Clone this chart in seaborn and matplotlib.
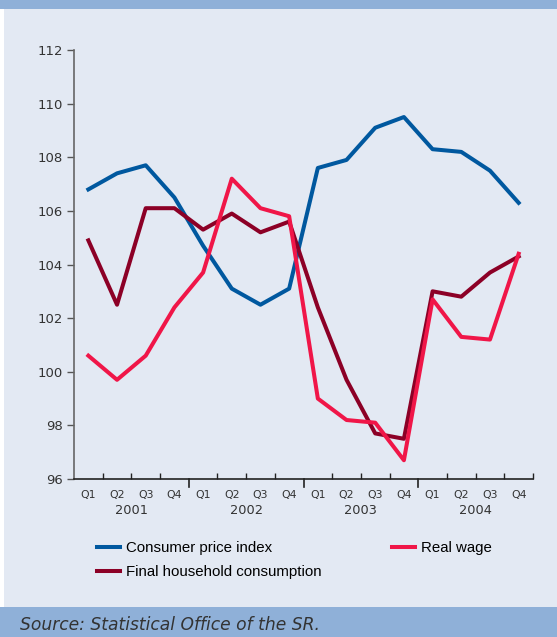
import numpy as np
import pandas as pd
import seaborn as sns
import matplotlib
matplotlib.use("Agg")
import matplotlib.pyplot as plt
from matplotlib.patches import Rectangle
from matplotlib.transforms import blended_transform_factory

quarters = ["Q1", "Q2", "Q3", "Q4"] * 4
years = ["2001", "2002", "2003", "2004"]
cpi = [106.8, 107.4, 107.7, 106.5, 104.7, 103.1, 102.5, 103.1,
       107.6, 107.9, 109.1, 109.5, 108.3, 108.2, 107.5, 106.3]
consumption = [104.9, 102.5, 106.1, 106.1, 105.3, 105.9, 105.2, 105.6,
               102.4, 99.7, 97.7, 97.5, 103.0, 102.8, 103.7, 104.3]
real_wage = [100.6, 99.7, 100.6, 102.4, 103.7, 107.2, 106.1, 105.8,
             99.0, 98.2, 98.1, 96.7, 102.7, 101.3, 101.2, 104.4]
series_names = ["Consumer price index", "Final household consumption", "Real wage"]
colors = ["#00589f", "#8c0026", "#f01648"]
yticks = [96, 98, 100, 102, 104, 106, 108, 110, 112]

n = len(quarters)
df = pd.DataFrame({
    "idx": list(range(n)) * 3,
    "value": cpi + consumption + real_wage,
    "series": sum([[s] * n for s in series_names], []),
})

BG = "#e3e9f3"
BAND = "#8fb0d8"
plt.rcParams["font.family"] = ["DejaVu Sans"]

fig = plt.figure(figsize=(5.57, 6.37), dpi=100, facecolor=BG)
# decorative bands
fig.patches.append(Rectangle((0, 1 - 9 / 637), 1, 9 / 637, transform=fig.transFigure,
                             facecolor=BAND, edgecolor="none", zorder=0))
fig.patches.append(Rectangle((0, 0), 1, 30 / 637, transform=fig.transFigure,
                             facecolor=BAND, edgecolor="none", zorder=0))
fig.patches.append(Rectangle((0, 30 / 637), 4 / 557, 1 - 39 / 637, transform=fig.transFigure,
                             facecolor="white", edgecolor="none", zorder=0))

ax = fig.add_axes([74 / 557, 1 - 479 / 637, 459 / 557, 429 / 637])
ax.set_facecolor(BG)

sns.lineplot(data=df, x="idx", y="value", hue="series", hue_order=series_names,
             palette=colors, linewidth=2.9, ax=ax, legend=False, sort=False)

ax.set_xlim(-0.5, 15.5)
ax.set_ylim(96, 112)
ax.set_yticks(yticks)
ax.set_yticklabels([str(t) for t in yticks], fontsize=9.5, color="#333333")
ax.tick_params(axis="y", direction="out", length=5, width=1, color="#555555", pad=3)

ax.set_xticks(range(n))
ax.set_xticklabels(quarters, fontsize=7.8, color="#333333")
ax.tick_params(axis="x", which="major", length=0, pad=8)
ax.set_xticks([i - 0.5 for i in range(1, n + 1) if i % 4 != 0 or i == n], minor=True)
ax.tick_params(axis="x", which="minor", direction="in", length=4, width=1, color="#222222")
# year boundary ticks (downward)
trans = blended_transform_factory(ax.transData, ax.transAxes)
for b in [3.5, 7.5, 11.5]:
    ax.plot([b, b], [0, -8 / 429], transform=trans, color="#222222", lw=1.2, clip_on=False)

for i, y in enumerate(years):
    ax.text(4 * i + 1.5, -32 / 429, y, transform=trans, ha="center", va="center",
            fontsize=9.3, color="#333333")

for s in ["top", "right"]:
    ax.spines[s].set_visible(False)
ax.spines["left"].set_color("#666666")
ax.spines["left"].set_linewidth(1.2)
ax.spines["bottom"].set_color("#222222")
ax.spines["bottom"].set_linewidth(1.2)
ax.set_xlabel("")
ax.set_ylabel("")

handles = [plt.Line2D([], [], color=c, lw=2.9) for c in colors]
fig.legend(handles, series_names, loc="upper left", bbox_to_anchor=(97 / 557, 1 - 541 / 637),
           ncol=2, frameon=False, handlelength=1.5, handletextpad=0.4,
           columnspacing=4.75, labelspacing=0.65, borderaxespad=0, borderpad=0,
           prop={"family": "Liberation Sans", "size": 10.8})

fig.text(20 / 557, 12 / 637, "Source: Statistical Office of the SR.", style="italic",
         fontsize=12.3, color="#333333", va="center", ha="left")

fig.savefig("out.png", dpi=100, facecolor=BG)
